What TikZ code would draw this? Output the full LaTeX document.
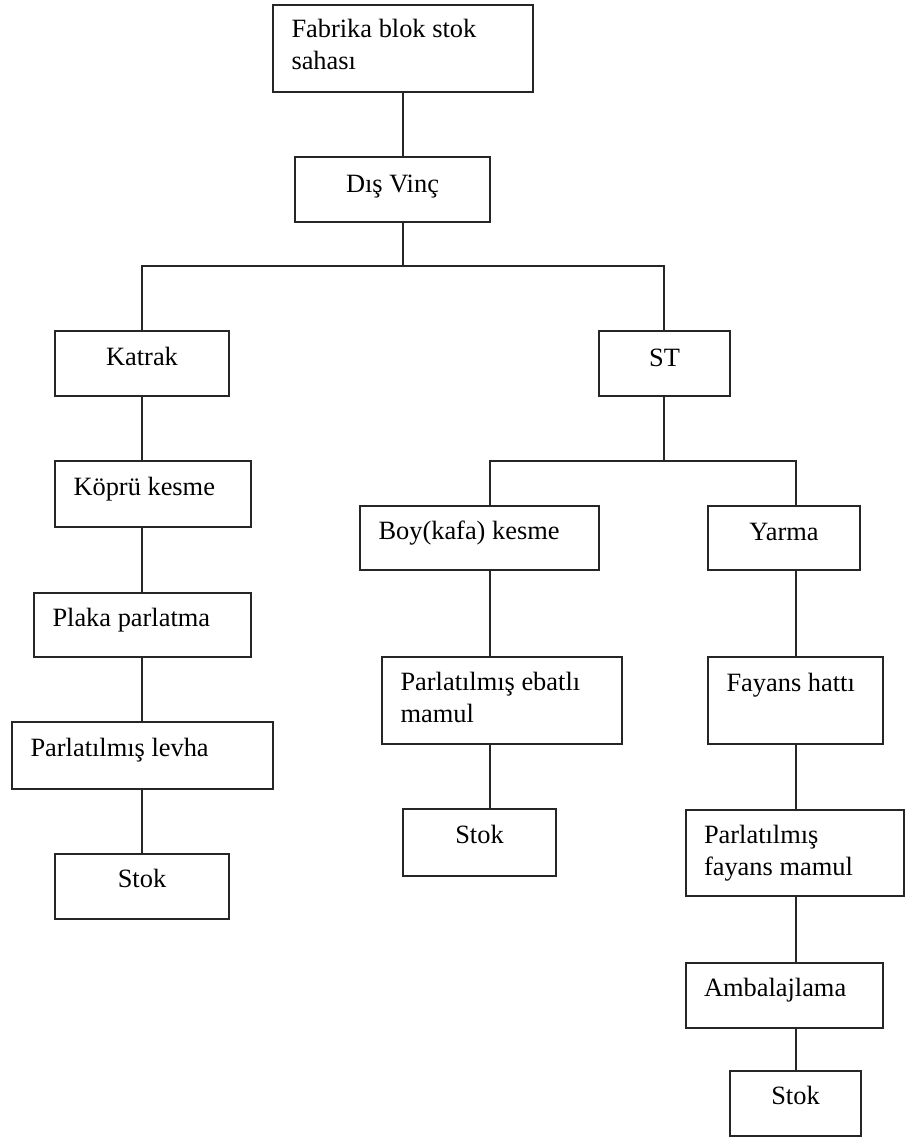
\documentclass[tikz,border=0pt]{standalone}
\usepackage{fontspec}
\setmainfont{Liberation Serif}
\begin{document}
\begin{tikzpicture}[x=1pt,y=1pt,
  box/.style={draw=black!85, line width=1.4pt, anchor=north west, inner sep=0pt, outer sep=0pt},
  lbl/.style={inner sep=0pt, outer sep=0pt, align=left, font=\fontsize{26.4}{31.5}\selectfont},
  conn/.style={draw=black!85, line width=1.4pt}]
\useasboundingbox (0,0) rectangle (905,-1137);
% boxes
\node[box, minimum width=260pt, minimum height=87pt] (fab) at (273,-5) {};
\node[box, minimum width=195pt, minimum height=65pt] (vinc) at (295,-157) {};
\node[box, minimum width=174pt, minimum height=65pt] (katrak) at (55,-331) {};
\node[box, minimum width=131pt, minimum height=65pt] (st) at (599,-331) {};
\node[box, minimum width=196pt, minimum height=66pt] (kopru) at (55,-461) {};
\node[box, minimum width=217pt, minimum height=64pt] (plaka) at (34,-593) {};
\node[box, minimum width=261pt, minimum height=67pt] (levha) at (12,-722) {};
\node[box, minimum width=174pt, minimum height=65pt] (stokA) at (55,-854) {};
\node[box, minimum width=239pt, minimum height=64pt] (boy) at (360,-506) {};
\node[box, minimum width=152pt, minimum height=64pt] (yarma) at (708,-506) {};
\node[box, minimum width=240pt, minimum height=87pt] (ebatli) at (382,-657) {};
\node[box, minimum width=153pt, minimum height=67pt] (stokB) at (403,-809) {};
\node[box, minimum width=175pt, minimum height=87pt] (fayans) at (708,-657) {};
\node[box, minimum width=218pt, minimum height=86pt] (pfm) at (686,-810) {};
\node[box, minimum width=197pt, minimum height=65pt] (ambal) at (686,-963) {};
\node[box, minimum width=131pt, minimum height=65pt] (stokC) at (730,-1071) {};
% texts (base anchor of a two-line text is on its last line)
\node[lbl, anchor=base west] (fabT) at ([xshift=18.5pt,yshift=-64.5pt]fab.north west) {Fabrika blok stok\\sahası};
\node[lbl, anchor=base] (vincT) at ([yshift=-35pt]vinc.north) {Dış Vinç};
\node[lbl, anchor=base] (katrakT) at ([yshift=-34pt]katrak.north) {Katrak};
\node[lbl, anchor=base] (stT) at ([yshift=-35pt]st.north) {ST};
\node[lbl, anchor=base west] (kopruT) at ([xshift=18.5pt,yshift=-34pt]kopru.north west) {Köprü kesme};
\node[lbl, anchor=base west] (plakaT) at ([xshift=18.5pt,yshift=-33pt]plaka.north west) {Plaka parlatma};
\node[lbl, anchor=base west] (levhaT) at ([xshift=18.5pt,yshift=-34pt]levha.north west) {Parlatılmış levha};
\node[lbl, anchor=base] (stokAT) at ([yshift=-33pt]stokA.north) {Stok};
\node[lbl, anchor=base west] (boyT) at ([xshift=18.5pt,yshift=-33pt]boy.north west) {Boy(kafa) kesme};
\node[lbl, anchor=base] (yarmaT) at ([yshift=-34pt]yarma.north) {Yarma};
\node[lbl, anchor=base west] (ebatliT) at ([xshift=18.5pt,yshift=-65pt]ebatli.north west) {Parlatılmış ebatlı\\mamul};
\node[lbl, anchor=base] (stokBT) at ([yshift=-34pt]stokB.north) {Stok};
\node[lbl, anchor=base west] (fayansT) at ([xshift=18.5pt,yshift=-34pt]fayans.north west) {Fayans hattı};
\node[lbl, anchor=base west] (pfmT) at ([xshift=18pt,yshift=-65pt]pfm.north west) {Parlatılmış\\fayans mamul};
\node[lbl, anchor=base west] (ambalT) at ([xshift=18pt,yshift=-33pt]ambal.north west) {Ambalajlama};
\node[lbl, anchor=base] (stokCT) at ([yshift=-33pt]stokC.north) {Stok};
% junction coordinates
\coordinate (cTop) at (403,0);
\coordinate (j1) at (403,-266);
\coordinate (j1L) at (142,-266);
\coordinate (j1R) at (664,-266);
\coordinate (j2) at (664,-461);
\coordinate (j2L) at (490,-461);
\coordinate (j2R) at (796,-461);
% connectors
\draw[conn] (fab.south -| cTop) -- (vinc.north -| cTop);
\draw[conn] (vinc.south -| cTop) -- (j1);
\draw[conn] (katrak.north -| j1L) -- (j1L) -- (j1R) -- (st.north -| j1R);
\draw[conn] (katrak.south -| j1L) -- (kopru.north -| j1L);
\draw[conn] (kopru.south -| j1L) -- (plaka.north -| j1L);
\draw[conn] (plaka.south -| j1L) -- (levha.north -| j1L);
\draw[conn] (levha.south -| j1L) -- (stokA.north -| j1L);
\draw[conn] (st.south -| j2) -- (j2);
\draw[conn] (boy.north -| j2L) -- (j2L) -- (j2R) -- (yarma.north -| j2R);
\draw[conn] (boy.south -| j2L) -- (ebatli.north -| j2L);
\draw[conn] (ebatli.south -| j2L) -- (stokB.north -| j2L);
\draw[conn] (yarma.south -| j2R) -- (fayans.north -| j2R);
\draw[conn] (fayans.south -| j2R) -- (pfm.north -| j2R);
\draw[conn] (pfm.south -| j2R) -- (ambal.north -| j2R);
\draw[conn] (ambal.south -| j2R) -- (stokC.north -| j2R);
\end{tikzpicture}
\end{document}
